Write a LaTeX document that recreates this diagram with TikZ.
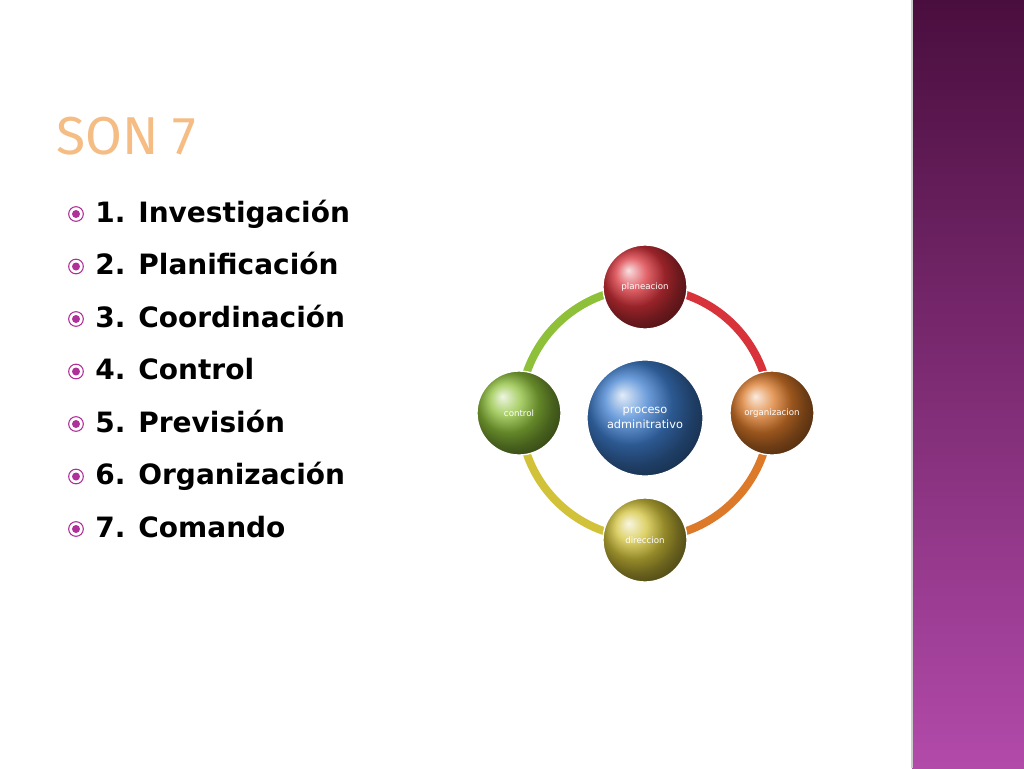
\documentclass[tikz,border=0pt]{standalone}
\usepackage{fontspec}
\setmainfont{DejaVu Sans}
\newfontfamily\titlefont{Fira Sans}
\usetikzlibrary{calc}
\definecolor{barTop}{HTML}{4A0E3E}
\definecolor{barBot}{HTML}{B24AAA}
\definecolor{titleOr}{HTML}{F2A65A}
\definecolor{dotPink}{HTML}{B0309A}
\definecolor{cRed}{HTML}{D8323A}
\definecolor{cOrg}{HTML}{DC7A2A}
\definecolor{cYel}{HTML}{D2C23A}
\definecolor{cGrn}{HTML}{8EC03A}
\definecolor{cBlu}{HTML}{3F7FD0}
\tikzset{
  ball/.style={circle, minimum size=84*0.75pt, inner sep=0pt, text=white,
    font=\fontsize{6.5}{8}\selectfont, draw=white, line width=1pt},
  ring/.style={line width=8*0.75pt},
  item/.style={anchor=base west, font=\bfseries\fontsize{21}{24}\selectfont}
}
\begin{document}
\begin{tikzpicture}[x=0.75pt,y=-0.75pt]
	\useasboundingbox (0,0) rectangle (1024,768);
	\fill[white] (0,0) rectangle (1024,768);
	\shade[top color=barTop, bottom color=barBot] (912,0) rectangle (1024,768);
	\draw[gray!40, line width=1pt] (912,0) -- (912,768);
	% title
	\node[anchor=base west, inner sep=0pt, text=titleOr!75,
	  font=\titlefont\fontsize{40}{42}\selectfont] (title) at (56,154) {SON 7};
	% list
	\foreach \t [count=\i] in {1. Investigación, 2. Planificación, 3. Coordinación,
	  4. Control, 5. Previsión, 6. Organización, 7. Comando}{
	  \node[item, inner sep=0pt] (item\i) at (95,{222+(\i-1)*52.5}) {\t};
	  \node[circle, draw=dotPink, line width=0.8pt, minimum size=11pt, inner sep=0pt] (dot\i) at (76,{214+(\i-1)*52.5}) {};
	  \fill[dotPink] (dot\i) circle (3pt);
	}
	% cycle
	\coordinate (C) at (645,413);
	\draw[ring, cRed] ($(C)+(-90:125)$) arc[start angle=90, end angle=0, radius=125*0.75pt];
	\draw[ring, cOrg] ($(C)+(0:125)$) arc[start angle=0, end angle=-90, radius=125*0.75pt];
	\draw[ring, cYel] ($(C)+(90:125)$) arc[start angle=-90, end angle=-180, radius=125*0.75pt];
	\draw[ring, cGrn] ($(C)+(180:125)$) arc[start angle=180, end angle=90, radius=125*0.75pt];
	\node[ball, ball color=cRed] (plan) at (645,287) {planeacion};
	\node[ball, ball color=cOrg] (org) at (772,413) {organizacion};
	\node[ball, ball color=cYel] (dir) at (645,540) {direccion};
	\node[ball, ball color=cGrn] (ctrl) at (519,413) {control};
	\node[ball, ball color=cBlu, minimum size=116*0.75pt, align=center,
	  font=\fontsize{8.5}{11}\selectfont] (proc) at (645,418) {proceso\\adminitrativo};
\end{tikzpicture}
\end{document}
